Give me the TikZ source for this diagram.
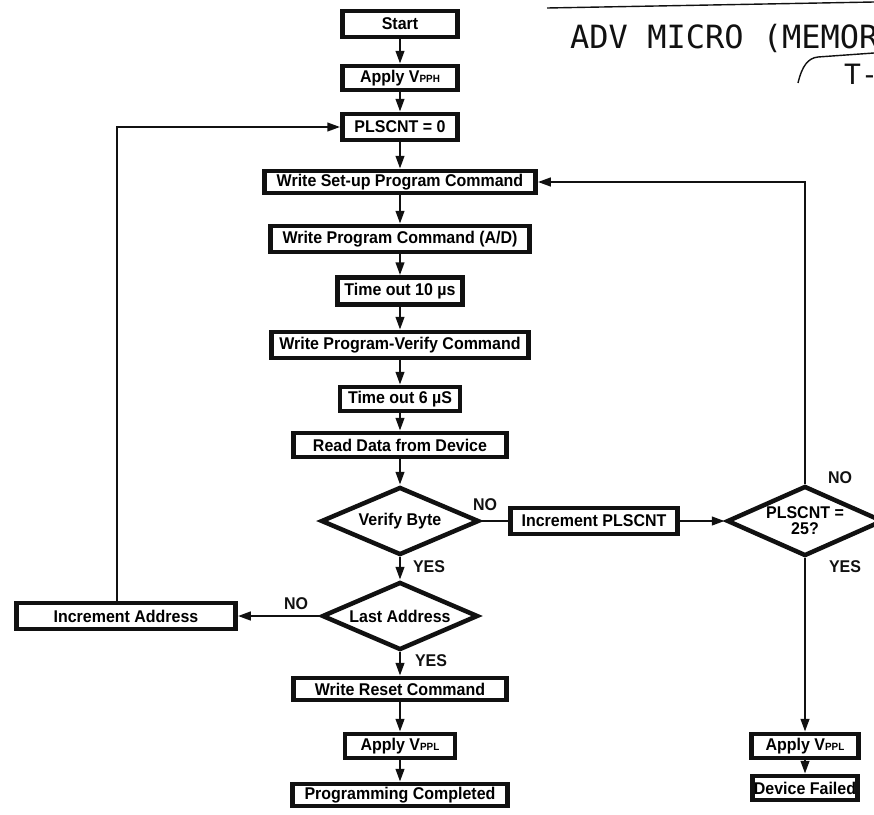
\documentclass[tikz,border=0pt]{standalone}
\usepackage{fontspec}
\setmainfont{Liberation Sans}[FakeStretch=0.94]
\newfontfamily\stampfont{DejaVu Sans Mono}
\usetikzlibrary{shapes.geometric, arrows.meta}
\definecolor{inkblack}{HTML}{111111}
\newcommand{\vsub}[1]{{\fontsize{10.5}{10}\selectfont #1}}

\begin{document}
\begin{tikzpicture}[x=1pt, y=-1pt, font=\fontsize{17}{19}\selectfont\bfseries,
    box/.style={draw=inkblack, line width=4.5pt, inner sep=0pt, minimum height=26pt},
    decision/.style={draw=inkblack, diamond, aspect=2.3, line width=4.5pt, inner sep=0pt, align=center},
    arr/.style={draw=inkblack, line width=2.6pt, -{Triangle[length=13pt,width=8.5pt]}},
    link/.style={draw=inkblack, line width=2.6pt},
    lbl/.style={text=inkblack, inner sep=0pt}]
  \clip (0,0) rectangle (874,814);
  \fill[white] (0,0) rectangle (874,814);
  % stamp in the corner
  \draw[inkblack, line width=1.4pt] (547,8) -- (874,2);
  \node[lbl, anchor=base west, font=\stampfont\mdseries\fontsize{32}{34}\selectfont] (stamp) at (570,48) {ADV MICRO (MEMOR};
  \draw[inkblack, line width=1.4pt] (798,83) .. controls (802,66) and (808,58) .. (818,57) -- (874,53);
  \node[lbl, anchor=base west, font=\stampfont\mdseries\fontsize{28}{30}\selectfont] (stampb) at (844,84) {T-};
  % main column
  \node[box, minimum width=115pt, minimum height=26pt] (start) at (400,24) {Start};
  \node[box, minimum width=115pt, minimum height=24pt] (vpph) at (400,78) {Apply V\vsub{PPH}};
  \node[box, minimum width=115pt, minimum height=26pt] (cnt0) at (400,127) {PLSCNT = 0};
  \node[box, minimum width=271pt, minimum height=22pt] (setup) at (400,182) {Write Set-up Program Command};
  \node[box, minimum width=259pt, minimum height=26pt] (prog) at (400,239) {Write Program Command (A/D)};
  \node[box, minimum width=125pt, minimum height=27pt] (to10) at (400,291) {Time out 10 µs};
  \node[box, minimum width=257pt, minimum height=26pt] (pverify) at (400,345) {Write Program-Verify Command};
  \node[box, minimum width=120pt, minimum height=24pt] (to6) at (400,399) {Time out 6 µS};
  \node[box, minimum width=213pt, minimum height=24pt] (read) at (400,445) {Read Data from Device};
  \node[decision, minimum width=158pt, minimum height=68pt] (verify) at (400,521) {Verify Byte};
  \node[decision, minimum width=156pt, minimum height=68pt] (last) at (400,616) {Last Address};
  \node[box, minimum width=213pt, minimum height=22pt] (reset) at (400,689) {Write Reset Command};
  \node[box, minimum width=110pt, minimum height=24pt] (vppl) at (400,746) {Apply V\vsub{PPL}};
  \node[box, minimum width=215pt, minimum height=22pt] (done) at (400,795) {Programming Completed};
  % side branches
  \node[box, minimum width=167pt, minimum height=26pt] (incpls) at (594,521) {Increment PLSCNT};
  \node[decision, minimum width=156pt, minimum height=70pt] (pls25) at (805,521) {PLSCNT =\\[-3pt]25?};
  \node[box, minimum width=107pt, minimum height=24pt] (vppl2) at (805,746) {Apply V\vsub{PPL}};
  \node[box, minimum width=105pt, minimum height=24pt] (failed) at (805,788) {Device Failed};
  \node[box, minimum width=219pt, minimum height=26pt] (incaddr) at (126,616) {Increment Address};
  % labels
  \node[lbl] (noverify) at (485,505) {NO};
  \node[lbl] (yesverify) at (429,567) {YES};
  \node[lbl] (nopls) at (840,478) {NO};
  \node[lbl] (yespls) at (845,567) {YES};
  \node[lbl] (nolast) at (296,604) {NO};
  \node[lbl] (yeslast) at (431,661) {YES};
  % connectors
  \foreach \a/\b in {start/vpph, vpph/cnt0, cnt0/setup, setup/prog, prog/to10, to10/pverify,
      pverify/to6, to6/read, read/verify, verify/last, last/reset, reset/vppl, vppl/done,
      pls25/vppl2, vppl2/failed}
    \draw[arr] (\a) -- (\b);
  \draw[link] (verify.east) -- (incpls.west);
  \draw[arr] (incpls.east) -- (pls25.west);
  \draw[arr] (pls25.north) |- (setup.east);
  \draw[arr] (last.west) -- (incaddr.east);
  \draw[arr] ([xshift=-9pt]incaddr.north) |- (cnt0.west);
\end{tikzpicture}
\end{document}
